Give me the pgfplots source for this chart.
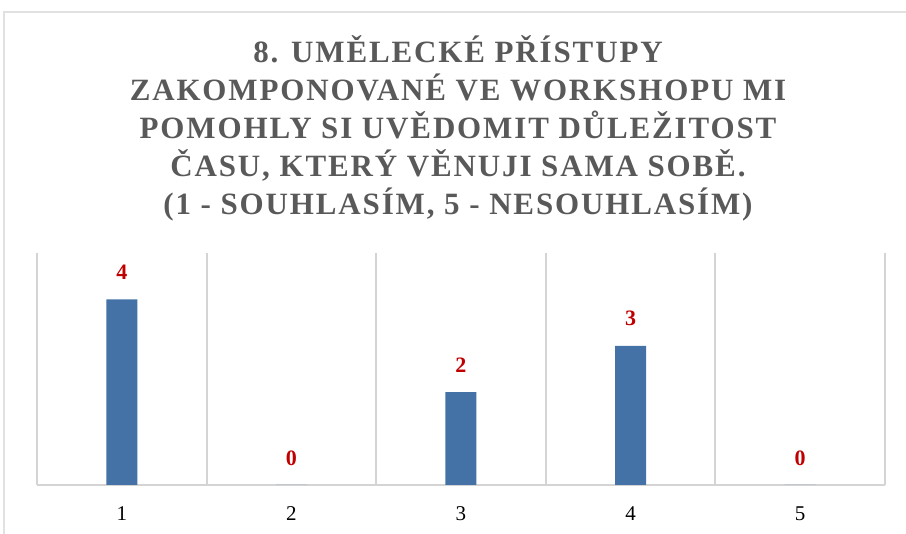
\documentclass[border=0pt]{standalone}
\usepackage{pgfplots}
\pgfplotsset{compat=1.18}
\usepackage{fontspec}
\setmainfont{Liberation Serif}
\newfontfamily\titlefont[LetterSpace=6]{Liberation Serif}
\definecolor{barblue}{RGB}{68,114,166}
\definecolor{lblred}{RGB}{192,0,0}
\definecolor{gridgray}{RGB}{212,212,212}
\definecolor{titlegray}{RGB}{89,89,89}

\begin{document}
\begin{tikzpicture}
\useasboundingbox (0,0) rectangle (453pt,267pt);
\draw[gridgray!70, line width=0.8pt] (2pt,0) -- (2pt,261pt) -- (453pt,261pt);
\begin{axis}[
  at={(18.5pt,24.5pt)}, anchor=south west,
  scale only axis, width=424pt, height=116pt,
  xmin=0.5, xmax=5.5, ymin=0, ymax=5,
  axis y line=none, axis x line*=bottom,
  x axis line style={gridgray, line width=1pt, -},
  xtick={1,2,3,4,5}, minor xtick={0.5,1.5,...,5.5},
  xminorgrids, minor x grid style={gridgray, line width=1pt},
  major tick length=0pt, minor tick length=0pt,
  xticklabel style={font=\fontsize{10.5}{12}\selectfont, text=black, yshift=-7.5pt},
  /pgf/number format/assume math mode=true,
  ybar, bar width=15.5pt,
  nodes near coords,
  nodes near coords style={font=\bfseries\fontsize{11}{13}\selectfont, text=lblred, anchor=center, yshift=13.5pt},
  clip=false,
]
\addplot[fill=barblue, draw=none] coordinates {(1,4) (2,0) (3,2) (4,3) (5,0)};
\end{axis}
\node[align=center, text=titlegray, font=\titlefont\bfseries\fontsize{15.5}{19}\selectfont]
  at (229pt,202.75pt) {8. UMĚLECKÉ PŘÍSTUPY\\ZAKOMPONOVANÉ VE WORKSHOPU MI\\POMOHLY SI UVĚDOMIT DŮLEŽITOST\\ČASU, KTERÝ VĚNUJI SAMA SOBĚ.\\(1 - SOUHLASÍM, 5 - NESOUHLASÍM)};
\end{tikzpicture}
\end{document}
